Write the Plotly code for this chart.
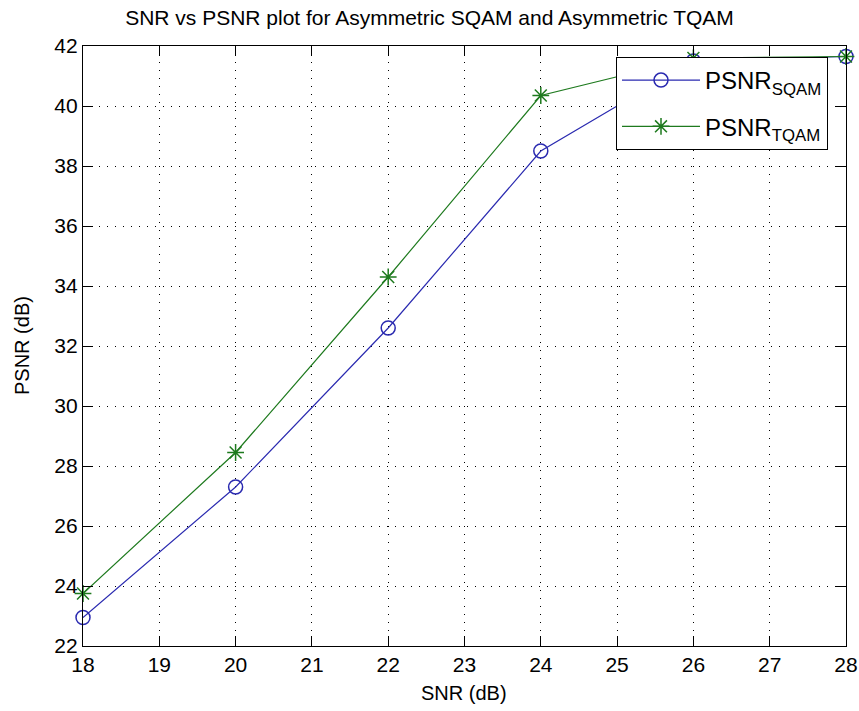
import plotly.graph_objects as go

snr = [18, 20, 22, 24, 26, 28]
psnr_sqam = [22.95, 27.3, 32.6, 38.5, 41.5, 41.65]
psnr_tqam = [23.75, 28.45, 34.3, 40.35, 41.6, 41.65]

title_text = "SNR vs PSNR plot for Asymmetric SQAM and Asymmetric TQAM"
x_title = "SNR (dB)"
y_title = "PSNR (dB)"
x_ticks = [18, 19, 20, 21, 22, 23, 24, 25, 26, 27, 28]
y_ticks = [22, 24, 26, 28, 30, 32, 34, 36, 38, 40, 42]

FONT = "Liberation Sans, Arial, sans-serif"
BLUE = "#2a2ab0"
GREEN = "#1e7a1e"

W, H = 859, 711
L, R, T, B = 83, 13, 46, 65
PW, PH = W - L - R, H - T - B

fig = go.Figure()
fig.add_trace(go.Scatter(
    x=snr, y=psnr_sqam, mode="lines+markers", name="PSNR<sub>SQAM</sub>",
    line=dict(color=BLUE, width=1.2),
    marker=dict(symbol="circle-open", size=14, color=BLUE, line=dict(width=1.5)),
    legendgroup="a", cliponaxis=False,
))
fig.add_trace(go.Scatter(
    x=snr, y=psnr_tqam, mode="lines+markers", name="PSNR<sub>TQAM</sub>",
    line=dict(color=GREEN, width=1.2),
    marker=dict(symbol="asterisk-open", size=14, color=GREEN, line=dict(width=1.5, color=GREEN)),
    legendgroup="b", cliponaxis=False,
))

axis_common = dict(
    showline=True, linecolor="black", linewidth=1.2, mirror="ticks",
    ticks="inside", ticklen=10, tickcolor="black", tickwidth=1.2,
    showgrid=True, gridcolor="black", gridwidth=1, griddash="1px,7px",
    zeroline=False, tickfont=dict(family=FONT, size=21, color="black"),
    automargin=False,
)

fig.update_xaxes(range=[18, 28], tickvals=x_ticks, ticktext=[str(v) for v in x_ticks], **axis_common)
fig.update_yaxes(range=[22, 42], tickvals=y_ticks, ticktext=[str(v) for v in y_ticks], **axis_common)

fig.add_annotation(text=x_title, xref="paper", yref="paper",
                   x=(464 - L) / PW, y=-(693 - (H - B)) / PH, xanchor="center", yanchor="middle",
                   showarrow=False, font=dict(family=FONT, size=20, color="black"))
fig.add_annotation(text=y_title, xref="paper", yref="paper", textangle=-90,
                   x=-(L - 22) / PW, y=(H - B - 346) / PH, xanchor="center", yanchor="middle",
                   showarrow=False, font=dict(family=FONT, size=20, color="black"))

fig.update_layout(
    width=W, height=H,
    margin=dict(l=L, r=R, t=T, b=B, autoexpand=False),
    paper_bgcolor="white", plot_bgcolor="white",
    title=dict(text=title_text, x=0.5, xanchor="center", y=1 - 18 / H, yanchor="middle",
               font=dict(family=FONT, size=21, color="black")),
    legend=dict(x=(616 - L) / PW, y=(H - B - 57) / PH, xanchor="left", yanchor="top",
                bgcolor="white", bordercolor="black", borderwidth=1,
                font=dict(family=FONT, size=24, color="black"),
                itemwidth=78, tracegroupgap=12),
    showlegend=True,
)

fig.write_html("out.html")
